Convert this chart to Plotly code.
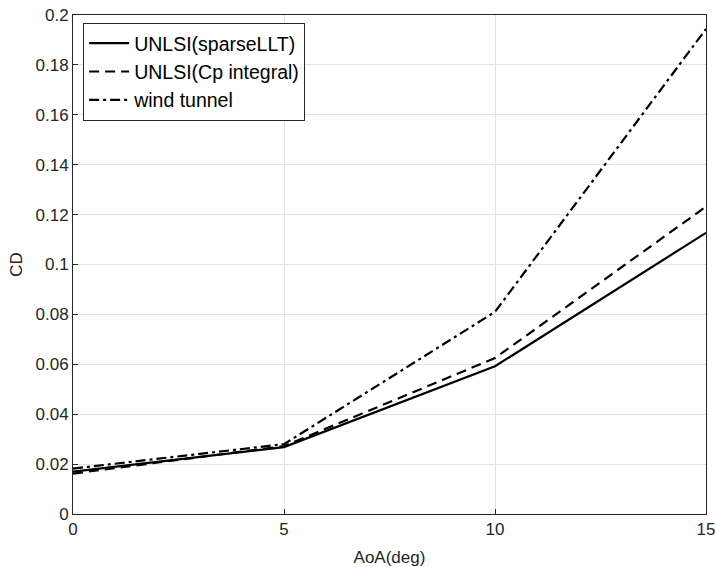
import plotly.graph_objects as go

aoa = [0, 5, 10, 15]
cd_sparse = [0.0170, 0.0268, 0.0592, 0.1127]
cd_cp = [0.0162, 0.0272, 0.0625, 0.1232]
cd_wind = [0.0182, 0.0280, 0.0810, 0.1944]

FONT = "Liberation Sans, Arial"
TXT = "#262626"

fig = go.Figure()
fig.add_trace(go.Scatter(x=aoa, y=cd_sparse, mode="lines", name="UNLSI(sparseLLT)",
                         line=dict(color="black", width=2.2, dash="solid")))
fig.add_trace(go.Scatter(x=aoa, y=cd_cp, mode="lines", name="UNLSI(Cp integral)",
                         line=dict(color="black", width=2.2, dash="10px,6px")))
fig.add_trace(go.Scatter(x=aoa, y=cd_wind, mode="lines", name="wind tunnel",
                         line=dict(color="black", width=2.2, dash="10px,4px,3px,4px")))

axis_common = dict(showgrid=True, gridcolor="#e3e3e3", gridwidth=1, showline=True,
                   linecolor=TXT, linewidth=1, mirror=True, ticks="inside",
                   ticklen=5, tickcolor=TXT, zeroline=False, automargin=False,
                   ticklabeloverflow="allow",
                   tickfont=dict(family=FONT, size=17, color=TXT))

fig.update_xaxes(range=[0, 15], tickvals=[0, 5, 10, 15],
                 title=dict(text="AoA(deg)", font=dict(family=FONT, size=17, color=TXT), standoff=12),
                 **axis_common)
fig.update_yaxes(range=[0, 0.2], tickvals=[0, 0.02, 0.04, 0.06, 0.08, 0.1, 0.12, 0.14, 0.16, 0.18, 0.2],
                 ticktext=["0", "0.02", "0.04", "0.06", "0.08", "0.1", "0.12", "0.14", "0.16", "0.18", "0.2"],
                 title=dict(text="CD", font=dict(family=FONT, size=17, color=TXT), standoff=8),
                 **axis_common)

fig.update_layout(
    width=715, height=567,
    margin=dict(l=73, r=9, t=15, b=53),
    plot_bgcolor="white", paper_bgcolor="white",
    font=dict(family=FONT, size=17, color=TXT),
    legend=dict(x=0.016, y=0.984, xanchor="left", yanchor="top",
                bgcolor="white", bordercolor=TXT, borderwidth=1,
                font=dict(family=FONT, size=19.5, color="black"),
                tracegroupgap=0, itemwidth=40),
    showlegend=True,
)

fig.write_html("out.html")
